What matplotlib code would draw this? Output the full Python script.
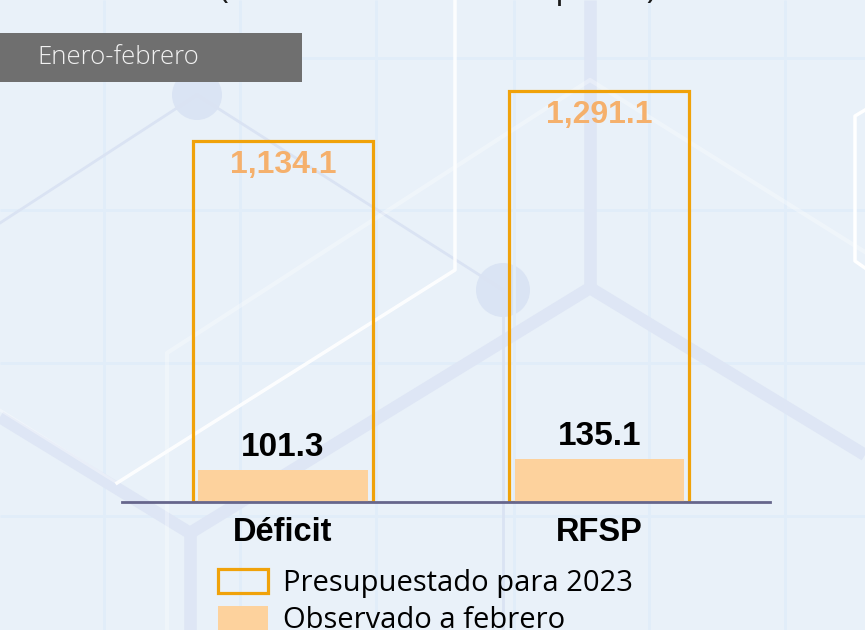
import matplotlib.pyplot as plt
import numpy as np
from matplotlib.patches import Circle, Patch, Rectangle

categories = ["Déficit", "RFSP"]
presupuestado = [1134.1, 1291.1]
observado = [101.3, 135.1]
legend_labels = ["Presupuestado para 2023", "Observado a febrero"]
period_label = "Enero-febrero"
title_text = "(Miles de millones de pesos)"

BG = "#E9F1F9"
ORANGE_EDGE = "#F0A20A"
ORANGE_FILL = "#FDD29D"
ORANGE_TEXT = "#F5B06C"
AXIS_COLOR = "#66668C"

W, H = 865, 630
fig = plt.figure(figsize=(W / 100, H / 100), dpi=100)
fig.patch.set_facecolor(BG)

# background decoration in pixel coords (origin top-left)
bg = fig.add_axes([0, 0, 1, 1], zorder=0)
bg.set_xlim(0, W)
bg.set_ylim(H, 0)
bg.axis("off")
for gx in [104, 240, 376, 514, 649, 785]:
    bg.plot([gx, gx], [0, H], color="#E1EDF9", lw=2, solid_capstyle="butt")
for gy in [58, 210, 363, 516]:
    bg.plot([0, W], [gy, gy], color="#E1EDF9", lw=2, solid_capstyle="butt")
thick = dict(color="#DEE6F5", lw=9, solid_capstyle="butt", solid_joinstyle="miter")
bg.plot([0, 190, 590, 865], [417, 533, 288, 455], **thick)
bg.plot([190, 190], [533, H], **thick)
bg.plot([590, 590], [0, 288], **thick)
thin = dict(color="#DAE3F3", lw=2)
bg.plot([0, 197, 503], [223, 95, 290], **thin)
bg.plot([503, 503], [290, H], **thin)
bg.plot([455, 455, 117], [0, 270, 483], color="white", lw=2.5, alpha=0.9)
bg.plot([117, 0], [483, 410], color="white", lw=2, alpha=0.35)
bg.plot([167, 167, 590, 865], [H, 353, 80, 252], color="white", lw=3, alpha=0.3)
bg.plot([865, 855, 855, 865], [110, 116, 261, 268], color="white", lw=2.5)
bg.add_patch(Circle((197, 95), 25, color="#DAE4F4", lw=0))
bg.add_patch(Circle((503, 290), 27, color="#DAE4F4", lw=0))

# period tag
bg.add_patch(Rectangle((0, 33), 302, 49, color="#6F6F6F", lw=0, zorder=5))
bg.text(37, 57, period_label, color="#F2F2F2", fontsize=18.5, fontweight="light",
        family="Open Sans", ha="left", va="center", zorder=6)

# title, almost entirely above the top edge as in the reference
fig.text(438 / W, 1 + 2 / H, title_text, fontsize=24, family="Open Sans",
         ha="center", va="baseline", color="#1A1A1A")

# main chart
ax = fig.add_axes([122 / W, 128 / H, 648 / W, 502 / H], zorder=2)
ax.set_facecolor("none")
x_pos = np.arange(len(categories))
ax.bar(x_pos, presupuestado, 0.569, fill=False, edgecolor=ORANGE_EDGE, linewidth=2.3, zorder=2)
ax.bar(x_pos, observado, 0.537, color=ORANGE_FILL, linewidth=0, zorder=2)

for i in range(len(categories)):
    ax.annotate(f"{presupuestado[i]:,.1f}", (x_pos[i], presupuestado[i]), xytext=(0, -17),
                textcoords="offset points", ha="center", va="center", fontsize=23,
                fontweight="bold", color=ORANGE_TEXT, family="Liberation Sans")
    ax.annotate(f"{observado[i]:,.1f}", (x_pos[i], observado[i]), xytext=(0, 16),
                textcoords="offset points", ha="center", va="center", fontsize=24,
                fontweight="bold", color="black", family="Liberation Sans")

ax.set_xlim(-0.509, 1.539)
ax.set_ylim(0, 1577)
ax.set_yticks([])
ax.set_xticks(x_pos)
ax.set_xticklabels(categories, fontsize=23.5, fontweight="bold", family="Liberation Sans")
ax.tick_params(axis="x", length=0, pad=11)
for s in ["top", "left", "right"]:
    ax.spines[s].set_visible(False)
ax.spines["bottom"].set_color(AXIS_COLOR)
ax.spines["bottom"].set_linewidth(2)
ax.spines["bottom"].set_zorder(3)

handles = [
    Patch(facecolor="none", edgecolor=ORANGE_EDGE, linewidth=2.3),
    Patch(facecolor=ORANGE_FILL, edgecolor="none"),
]
fig.legend(handles, legend_labels, loc="upper left", bbox_to_anchor=(218 / W, 1 - 569 / H),
           frameon=False, prop={"family": "Open Sans", "size": 21}, handlelength=1.72,
           handleheight=0.85, handletextpad=0.5, labelspacing=0.28, borderpad=0,
           borderaxespad=0)

fig.savefig("out.png", dpi=100, facecolor=fig.get_facecolor())
